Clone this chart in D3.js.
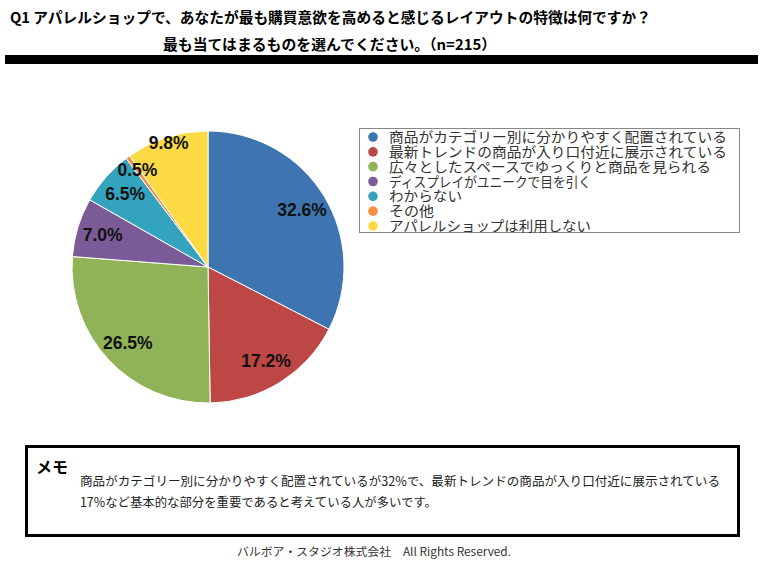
<!DOCTYPE html>
<html><head><meta charset="utf-8">
<script src="https://cdn.jsdelivr.net/npm/d3@7"></script>
<style>body{margin:0;background:#fff}svg{display:block}</style>
</head><body>
<svg id="c" width="763" height="569"></svg>
<script>
const categories = [
  "商品がカテゴリー別に分かりやすく配置されている",
  "最新トレンドの商品が入り口付近に展示されている",
  "広々としたスペースでゆっくりと商品を見られる",
  "ディスプレイがユニークで目を引く",
  "わからない",
  "その他",
  "アパレルショップは利用しない"
];
const values = [32.6, 17.2, 26.5, 7.0, 6.5, 0.5, 9.8];
const colors = ["#3E75B0", "#BC4744", "#8FB356", "#7A5A97", "#34A3BE", "#F68F45", "#FCDA44"];
const labelRadius = [0.81, 0.81, 0.81, 0.81, 0.81, 0.88, 0.955];
const titleLines = [
  "Q1 アパレルショップで、あなたが最も購買意欲を高めると感じるレイアウトの特徴は何ですか？",
  "最も当てはまるものを選んでください。（n=215）"
];
const memoTitle = "メモ";
const memoLines = [
  "商品がカテゴリー別に分かりやすく配置されているが32%で、最新トレンドの商品が入り口付近に展示されている",
  "17%など基本的な部分を重要であると考えている人が多いです。"
];
const footer = "バルボア・スタジオ株式会社　All Rights Reserved.";

const svg = d3.select("#c");
const font = "'Noto Sans CJK JP', 'Noto Sans', sans-serif";

// Title
svg.append("text").attr("x", 10).attr("y", 23).attr("font-family", font)
  .attr("font-size", 14.5).attr("font-weight", "bold").attr("fill", "#000")
  .attr("textLength", 641).attr("lengthAdjust", "spacingAndGlyphs").text(titleLines[0]);
svg.append("text").attr("x", 163).attr("y", 50).attr("font-family", font)
  .attr("font-size", 14.5).attr("font-weight", "bold").attr("fill", "#000")
  .attr("textLength", 333).attr("lengthAdjust", "spacingAndGlyphs").text(titleLines[1]);
svg.append("rect").attr("x", 5).attr("y", 55).attr("width", 753).attr("height", 9).attr("fill", "#000");

// Pie
const cx = 208, cy = 267, R = 136;
const pie = d3.pie().sort(null).value(d => d)(values);
const arc = d3.arc().innerRadius(0).outerRadius(R);
const g = svg.append("g").attr("transform", `translate(${cx},${cy})`);
g.selectAll("path").data(pie).join("path")
  .attr("d", arc).attr("fill", (d, i) => colors[i])
  .attr("stroke", "#fff").attr("stroke-width", 1);
g.selectAll("text").data(pie).join("text")
  .attr("transform", (d, i) => {
    const a = (d.startAngle + d.endAngle) / 2, r = R * labelRadius[i];
    return `translate(${r * Math.sin(a)},${-r * Math.cos(a)})`;
  })
  .attr("text-anchor", "middle").attr("dy", "0.35em")
  .attr("font-family", "'Liberation Sans', Arial, sans-serif").attr("font-weight", "bold")
  .attr("font-size", 17.5).attr("fill", "#111")
  .text(d => d.data.toFixed(1) + "%");

// Legend
const lg = svg.append("g");
lg.append("rect").attr("x", 359.5).attr("y", 128.5).attr("width", 380).attr("height", 104)
  .attr("fill", "#fff").attr("stroke", "#888").attr("stroke-width", 1);
const ly = d3.scalePoint().domain(categories).range([137, 226]);
const legendWidths = [338, 338, 322, 202, 73, 45, 202];
categories.forEach((c, i) => {
  lg.append("circle").attr("cx", 373).attr("cy", ly(c)).attr("r", 4.8).attr("fill", colors[i]);
  lg.append("text").attr("x", 389).attr("y", ly(c)).attr("dy", "0.36em")
    .attr("font-family", font).attr("font-size", 14).attr("fill", "#333")
    .attr("textLength", legendWidths[i]).attr("lengthAdjust", "spacingAndGlyphs").text(c);
});

// Memo
svg.append("rect").attr("x", 26.5).attr("y", 446.5).attr("width", 712).attr("height", 89)
  .attr("fill", "#fff").attr("stroke", "#000").attr("stroke-width", 3);
svg.append("text").attr("x", 36).attr("y", 473).attr("font-family", font)
  .attr("font-size", 16).attr("font-weight", "bold").attr("fill", "#000").text(memoTitle);
svg.append("text").attr("x", 80).attr("y", 486).attr("font-family", font)
  .attr("font-size", 12.5).attr("fill", "#222")
  .attr("textLength", 640).attr("lengthAdjust", "spacingAndGlyphs").text(memoLines[0]);
svg.append("text").attr("x", 80).attr("y", 507).attr("font-family", font)
  .attr("font-size", 12.5).attr("fill", "#222")
  .attr("textLength", 357).attr("lengthAdjust", "spacingAndGlyphs").text(memoLines[1]);

// Footer
svg.append("text").attr("x", 237).attr("y", 556)
  .attr("font-family", font).attr("font-size", 11.5).attr("fill", "#333")
  .attr("textLength", 274).attr("lengthAdjust", "spacingAndGlyphs").text(footer);
</script>
</body></html>
